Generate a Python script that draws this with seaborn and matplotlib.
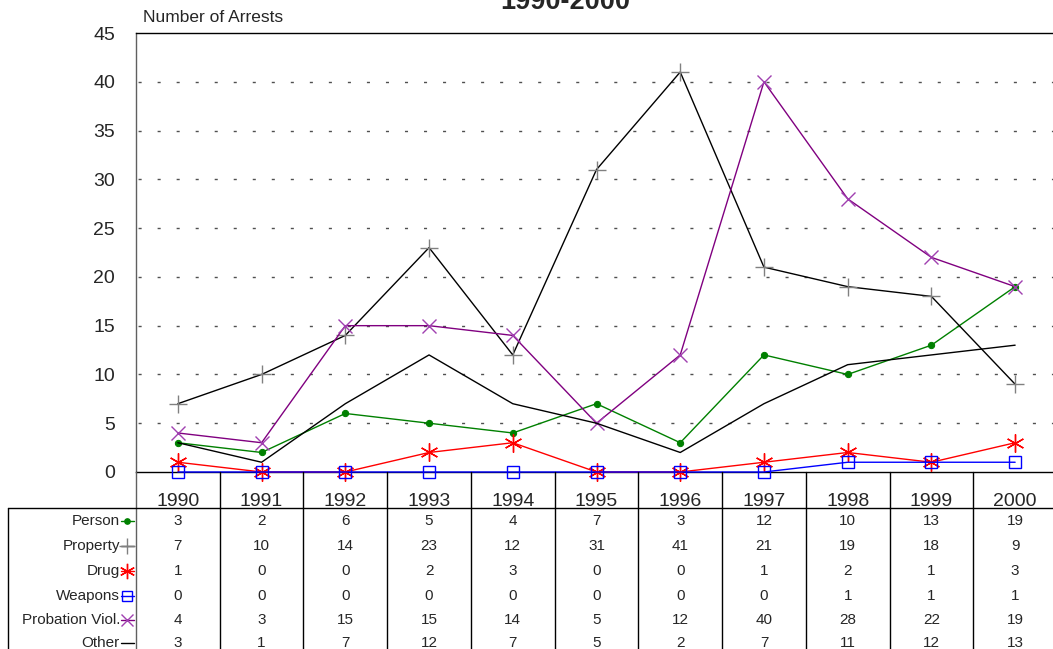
import numpy as np
import pandas as pd
import matplotlib
matplotlib.use("Agg")
import matplotlib.pyplot as plt
import seaborn as sns

years = ["1990", "1991", "1992", "1993", "1994", "1995", "1996", "1997", "1998", "1999", "2000"]
person = [3, 2, 6, 5, 4, 7, 3, 12, 10, 13, 19]
property_ = [7, 10, 14, 23, 12, 31, 41, 21, 19, 18, 9]
drug = [1, 0, 0, 2, 3, 0, 0, 1, 2, 1, 3]
weapons = [0, 0, 0, 0, 0, 0, 0, 0, 1, 1, 1]
probation = [4, 3, 15, 15, 14, 5, 12, 40, 28, 22, 19]
other = [3, 1, 7, 12, 7, 5, 2, 7, 11, 12, 13]

row_names = ["Person", "Property", "Drug", "Weapons", "Probation Viol.", "Other"]
series = [person, property_, drug, weapons, probation, other]

styles = {
    "Person": dict(color="#008000", marker="o", markersize=4.5, markeredgecolor="#008000", markerfacecolor="#008000"),
    "Property": dict(color="black", marker="+", markersize=13, markeredgecolor="#808080", markeredgewidth=1),
    "Drug": dict(color="#FF0000", marker=(6, 2, 0), markersize=13, markeredgecolor="#FF0000", markeredgewidth=1),
    "Weapons": dict(color="#0000FF", marker="s", markersize=9, markeredgecolor="#0000FF", markerfacecolor="none", markeredgewidth=1),
    "Probation Viol.": dict(color="#800080", marker="x", markersize=10, markeredgecolor="#A040B0", markeredgewidth=1),
    "Other": dict(color="black"),
}

sns.set_style("white")
plt.rcParams['font.family'] = ['Liberation Sans', 'DejaVu Sans']

W, H = 1053, 649
fig = plt.figure(figsize=(W / 100, H / 100), dpi=100)

# main chart axes, pixel geometry from the reference
left_px, right_px, top_px, bot_px = 136, 1057, 33, 472
ax = fig.add_axes([left_px / W, 1 - bot_px / H, (right_px - left_px) / W, (bot_px - top_px) / H])

x = np.arange(len(years))
for name, vals in zip(row_names, series):
    st = dict(styles[name])
    sns.lineplot(x=x, y=vals, ax=ax, linewidth=1, clip_on=False, zorder=3, **st)

ax.set_xlim(-0.5, len(years) - 0.5)
ax.set_ylim(0, 45)
ax.set_yticks(range(0, 46, 5))
ax.set_xticks([])
ax.set_xlabel("")
ax.set_ylabel("")
ax.tick_params(axis="y", length=0, pad=15, labelsize=14)
for y in range(5, 41, 5):
    ax.axhline(y, color="#505050", linestyle=(12.2, (2.2, 11.5)), linewidth=1, zorder=1)
for s in ax.spines.values():
    s.set_color("black")
    s.set_linewidth(1)
ax.spines["left"].set_color("#606060")

fig.text(143 / W, 1 - 22 / H, "Number of Arrests", fontsize=12.5, ha="left", va="baseline")
fig.text(565 / W, 1 - 9 / H, "1990-2000", fontsize=19.5, fontweight="bold", ha="center", va="baseline")

# data table below the chart
px_per_unit = (right_px - left_px) / len(years)
tab_left_px = 8
tx0 = -0.5 - (left_px - tab_left_px) / px_per_unit
axt = fig.add_axes([tab_left_px / W, 0, (right_px - tab_left_px) / W, (H - bot_px) / H])
axt.set_xlim(tx0, len(years) - 0.5)
axt.set_ylim(H - bot_px, 0)
axt.axis("off")

# grid lines of the table
for xb in np.arange(-0.5, len(years) - 0.5, 1.0):
    col = "#606060" if xb == -0.5 else "black"
    axt.plot([xb, xb], [0, H - bot_px], color=col, linewidth=1, clip_on=False)
axt.plot([tx0, len(years) - 0.5], [36, 36], color="black", linewidth=1, clip_on=False)
axt.plot([tx0, tx0], [36, H - bot_px], color="black", linewidth=1, clip_on=False)

for i, yr in enumerate(years):
    axt.text(i, 34, yr, ha="center", va="baseline", fontsize=14)

row_y = [49, 74, 99, 124, 148, 171]
lab_x = -0.5 - 16 / px_per_unit
mk_x0 = -0.5 - 15 / px_per_unit
mk_x1 = -0.5 - 2 / px_per_unit
for name, vals, ry in zip(row_names, series, row_y):
    axt.text(lab_x, ry, name, ha="right", va="center", fontsize=11)
    st = dict(styles[name])
    marker = st.pop("marker", None)
    ms = st.pop("markersize", None)
    mec = st.pop("markeredgecolor", None)
    mfc = st.pop("markerfacecolor", None)
    mew = st.pop("markeredgewidth", 1)
    axt.plot([mk_x0, mk_x1], [ry, ry], color=st["color"], linewidth=1, clip_on=False)
    if marker is not None:
        axt.plot([(mk_x0 + mk_x1) / 2], [ry], linestyle="none", marker=marker,
                 markersize=ms * 0.85, markeredgecolor=mec,
                 markerfacecolor=mfc if mfc else mec, markeredgewidth=mew, clip_on=False)
    for i, v in enumerate(vals):
        axt.text(i, ry, str(v), ha="center", va="center", fontsize=11)

fig.savefig("out.png", dpi=100)
